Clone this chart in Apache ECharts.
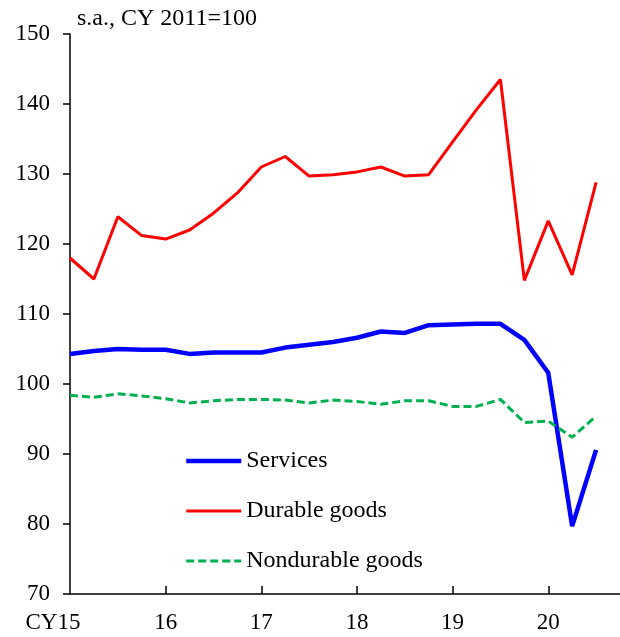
<!DOCTYPE html>
<html lang="en">
<head>
    <meta charset="UTF-8">
    <title>Consumption</title>
    <style>
        html, body { margin: 0; padding: 0; background: #fff; }
        .div { width: 620px; height: 637px; }
    </style>
</head>
<body>
    <div class="div"></div>
    <script src="https://cdn.jsdelivr.net/npm/echarts@6/dist/echarts.min.js"></script>
    <script>
        // quarters CY2015Q1 .. CY2020Q4 (last one is empty, it only stretches the axis)
        const quarters = []
        for (let y = 15; y <= 20; y++) {
            for (let q = 1; q <= 4; q++) quarters.push(y + 'Q' + q)
        }
        const yearLabels = ['CY15', '16', '17', '18', '19', '20']

        const services = [104.3, 104.7, 105.0, 104.9, 104.9, 104.3, 104.5, 104.5, 104.5, 105.2, 105.6, 106.0,
            106.6, 107.5, 107.3, 108.4, 108.5, 108.6, 108.6, 106.3, 101.6, 79.7, 90.6]
        const durable = [118.0, 115.0, 123.9, 121.2, 120.7, 122.0, 124.4, 127.3, 131.0, 132.5, 129.7, 129.9,
            130.3, 131.0, 129.7, 129.9, 134.6, 139.2, 143.5, 114.8, 123.3, 115.6, 128.8]
        const nondurable = [98.4, 98.1, 98.6, 98.3, 97.9, 97.3, 97.6, 97.8, 97.8, 97.7, 97.3, 97.7,
            97.5, 97.1, 97.6, 97.6, 96.8, 96.8, 97.8, 94.5, 94.7, 92.4, 95.4]

        const font = '"Liberation Serif", "Times New Roman", serif'
        const chart = echarts.init(document.querySelector('.div'))

        chart.setOption({
            animation: false,
            textStyle: { fontFamily: font },
            title: {
                text: 's.a., CY 2011=100',
                left: 72,
                top: 2,
                textStyle: { fontFamily: font, fontSize: 24, fontWeight: 'normal', color: '#000' }
            },
            legend: {
                orient: 'vertical',
                left: 179,
                top: 444,
                itemWidth: 55,
                itemHeight: 14,
                itemGap: 26,
                itemStyle: { opacity: 0 },
                lineStyle: { width: 'inherit' },
                textStyle: { fontFamily: font, fontSize: 24, color: '#000' },
                data: ['Services', 'Durable goods', 'Nondurable goods']
            },
            grid: { left: 70, right: 0, top: 34, bottom: 43 },
            xAxis: {
                type: 'category',
                data: quarters,
                boundaryGap: false,
                axisLine: { lineStyle: { color: '#000', width: 1.5 } },
                axisTick: {
                    inside: true,
                    length: 8,
                    interval: (i) => i % 4 === 0 && i > 0,
                    lineStyle: { color: '#000', width: 1.5 }
                },
                axisLabel: {
                    interval: (i) => i % 4 === 0,
                    margin: 17,
                    fontSize: 23,
                    color: '#000',
                    fontFamily: font,
                    formatter: (v, i) => i === 0 ? '{cy|' + yearLabels[0] + '}' : yearLabels[i / 4],
                    rich: {
                        cy: { fontSize: 23, fontFamily: font, color: '#000', padding: [0, 34, 0, 0] }
                    }
                },
                splitLine: { show: false }
            },
            yAxis: {
                type: 'value',
                min: 70,
                max: 150,
                interval: 10,
                axisLine: { show: true, lineStyle: { color: '#000', width: 1.5 } },
                axisTick: { show: true, length: 7, lineStyle: { color: '#000', width: 1.5 } },
                axisLabel: { margin: 20, fontSize: 23, color: '#000', fontFamily: font },
                splitLine: { show: false }
            },
            series: [
                {
                    name: 'Services',
                    type: 'line',
                    data: services,
                    symbol: 'none',
                    color: '#0000ff',
                    lineStyle: { color: '#0000ff', width: 4.5 },
                    z: 3
                },
                {
                    name: 'Durable goods',
                    type: 'line',
                    data: durable,
                    symbol: 'none',
                    color: '#ff0000',
                    lineStyle: { color: '#ff0000', width: 3 }
                },
                {
                    name: 'Nondurable goods',
                    type: 'line',
                    data: nondurable,
                    symbol: 'none',
                    color: '#00b050',
                    lineStyle: { color: '#00b050', width: 3, type: [8, 4] }
                }
            ]
        })
    </script>
</body>
</html>
